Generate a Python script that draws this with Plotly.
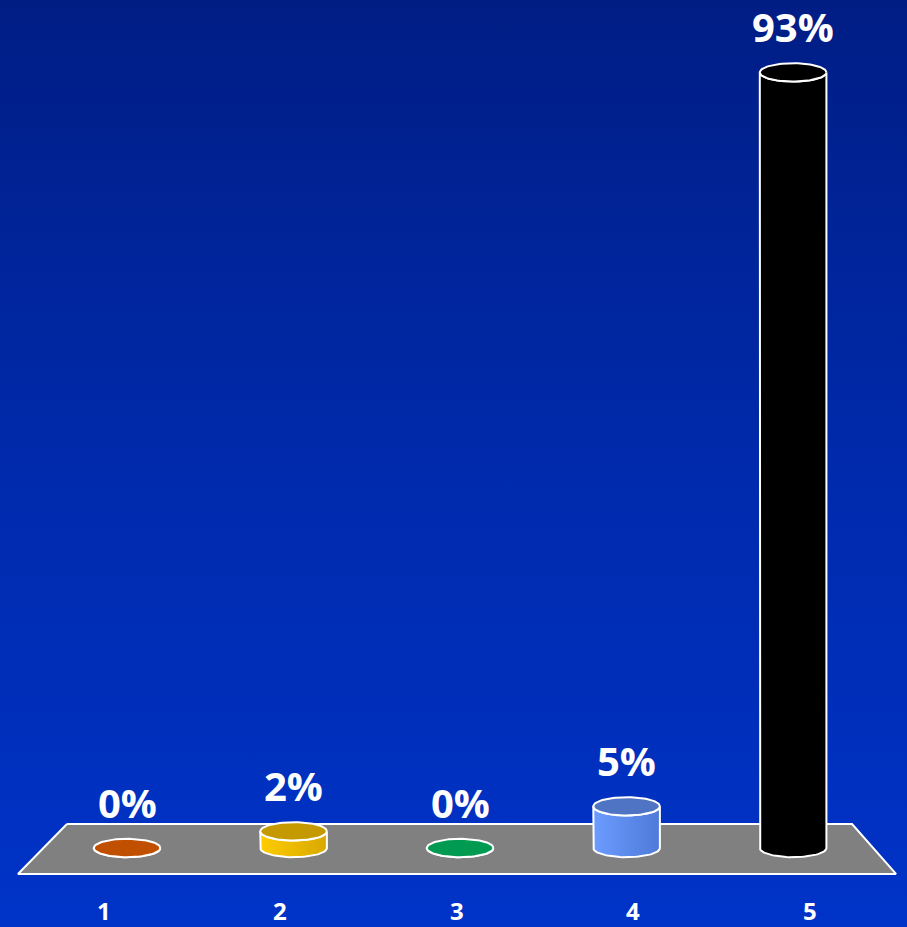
import numpy as np
import plotly.graph_objects as go

# Survey result per answer option
categories = ["1", "2", "3", "4", "5"]
values = [0, 2, 0, 5, 93]

# Cylinder colours: side (light -> dark) and top face
side_light = ["#d45a00", "#ffcc00", "#00b050", "#6b9cff", "#000000"]
side_dark = ["#b04a00", "#d8a800", "#009040", "#4f7ad8", "#000000"]
top_colors = ["#c05000", "#c49a00", "#009a50", "#4f74c4", "#000000"]

W, H = 907, 927
X_RANGE = [0.237, 5.684]
Y_RANGE = [-9.47, 101.68]
X2_RANGE = [0.411, 5.55]

RX = 0.2    # cylinder half width (x units)
RY = 1.1    # ellipse half depth (y units)

fig = go.Figure()

# Background gradient
fig.add_trace(go.Scatter(
    x=[X_RANGE[0], X_RANGE[1], X_RANGE[1], X_RANGE[0], X_RANGE[0]],
    y=[Y_RANGE[0], Y_RANGE[0], Y_RANGE[1], Y_RANGE[1], Y_RANGE[0]],
    fill="toself", mode="none", hoverinfo="skip", showlegend=False,
    fillgradient=dict(type="vertical",
                      colorscale=[[0, "#0033c8"], [0.5, "#002aac"], [1, "#001d84"]]),
))

# Floor
fx = [0.639, 5.354, 5.618, 0.345, 0.639]
fy = [2.88, 2.88, -3.11, -3.11, 2.88]
fig.add_trace(go.Scatter(
    x=fx, y=fy, fill="toself", mode="lines", fillcolor="#808080",
    line=dict(color="white", width=2), hoverinfo="skip", showlegend=False,
))

theta_low = np.linspace(np.pi, 2 * np.pi, 40)
theta_all = np.linspace(0, 2 * np.pi, 80)

for i, (cat, v) in enumerate(zip(categories, values)):
    cx = i + 1
    # side of the cylinder
    bx = np.concatenate([[cx - RX], cx + RX * np.cos(theta_low), [cx + RX],
                         (cx + RX * np.cos(theta_low))[::-1], [cx - RX]])
    by = np.concatenate([[v], RY * np.sin(theta_low), [v],
                         (v + RY * np.sin(theta_low))[::-1], [v]])
    fig.add_trace(go.Scatter(
        x=bx, y=by, fill="toself", mode="lines",
        line=dict(color="white", width=2),
        fillgradient=dict(type="horizontal",
                          colorscale=[[0, side_light[i]], [1, side_dark[i]]]),
        hoverinfo="skip", showlegend=False,
    ))
    # top face
    fig.add_trace(go.Scatter(
        x=cx + RX * np.cos(theta_all), y=v + RY * np.sin(theta_all),
        fill="toself", mode="lines", fillcolor=top_colors[i],
        line=dict(color="white", width=2),
        hoverinfo="skip", showlegend=False,
    ))
    # value label
    fig.add_annotation(
        x=cx, y=v + RY, text=f"{v}%", showarrow=False,
        xref="x", yref="y", yanchor="bottom", yshift=8, borderpad=0,
        font=dict(family="Open Sans", size=40, color="white", weight="bold"),
    )
    # category label along the front edge
    fig.add_annotation(
        x=cx, y=0, text=cat, showarrow=False,
        xref="x2", yref="paper", yanchor="bottom", yshift=-2,
        font=dict(family="Open Sans", size=24, color="white", weight="bold"),
    )

fig.update_layout(
    width=W, height=H,
    margin=dict(l=0, r=0, t=0, b=0),
    paper_bgcolor="#0033c8", plot_bgcolor="#0033c8",
    xaxis=dict(range=X_RANGE, visible=False, fixedrange=True),
    xaxis2=dict(range=X2_RANGE, visible=False, overlaying="x", fixedrange=True),
    yaxis=dict(range=Y_RANGE, visible=False, fixedrange=True),
    showlegend=False,
)

fig.write_html("out.html")
